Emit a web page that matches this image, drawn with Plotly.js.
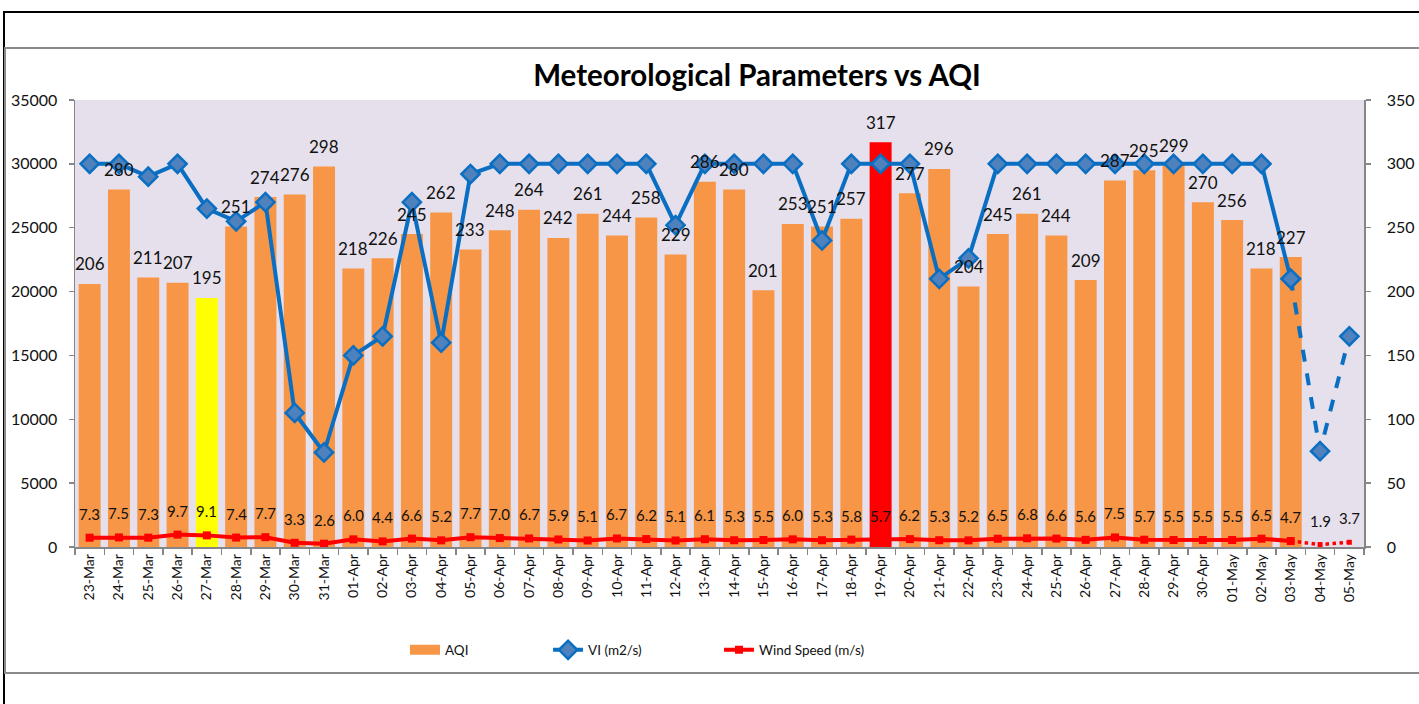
<!DOCTYPE html>
<html><head><meta charset="utf-8">
<script src="https://cdn.plot.ly/plotly-3.0.1.min.js"></script>
<style>
html,body{margin:0;padding:0;background:#fff;}
#wrap{position:relative;width:1419px;height:704px;overflow:hidden;}
#chart{position:absolute;left:0;top:0;width:1419px;height:704px;}
.frame{position:absolute;pointer-events:none;box-sizing:border-box;}
</style></head><body>
<div id="wrap">
<div id="chart"></div>
<div class="frame" style="left:3px;top:11px;width:1416px;height:693px;border-top:2px solid #000;border-left:2px solid #000;"></div>
<div class="frame" style="left:4px;top:47px;width:1415px;height:627px;border-top:2px solid #8a8a8a;border-left:2px solid #8a8a8a;border-bottom:2px solid #8a8a8a;"></div>
</div>
<script>
const dates = ['23-Mar','24-Mar','25-Mar','26-Mar','27-Mar','28-Mar','29-Mar','30-Mar','31-Mar',
  '01-Apr','02-Apr','03-Apr','04-Apr','05-Apr','06-Apr','07-Apr','08-Apr','09-Apr','10-Apr',
  '11-Apr','12-Apr','13-Apr','14-Apr','15-Apr','16-Apr','17-Apr','18-Apr','19-Apr','20-Apr',
  '21-Apr','22-Apr','23-Apr','24-Apr','25-Apr','26-Apr','27-Apr','28-Apr','29-Apr','30-Apr',
  '01-May','02-May','03-May','04-May','05-May'];
const aqi = [206,280,211,207,195,251,274,276,298,
  218,226,245,262,233,248,264,242,261,244,
  258,229,286,280,201,253,251,257,317,277,
  296,204,245,261,244,209,287,295,299,270,
  256,218,227,null,null];
const vi = [30000,30000,29000,30000,26500,25500,27000,10500,7400,
  15000,16500,27000,16000,29200,30000,30000,30000,30000,30000,
  30000,25200,30000,30000,30000,30000,24000,30000,30000,30000,
  21000,22600,30000,30000,30000,30000,30000,30000,30000,30000,
  30000,30000,21000,7500,16500];
const wind = [7.3,7.5,7.3,9.7,9.1,7.4,7.7,3.3,2.6,
  6.0,4.4,6.6,5.2,7.7,7.0,6.7,5.9,5.1,6.7,
  6.2,5.1,6.1,5.3,5.5,6.0,5.3,5.8,5.7,6.2,
  5.3,5.2,6.5,6.8,6.6,5.6,7.5,5.7,5.5,5.5,
  5.5,6.5,4.7,1.9,3.7];
const seriesNames = {aqi:'AQI', vi:'VI (m2/s)', wind:'Wind Speed (m/s)'};
const chartTitle = 'Meteorological Parameters vs AQI';

const highlight = {'27-Mar':'#FFFF00','19-Apr':'#FF0000'};
const ORANGE = '#F79646', BLUE = '#0A6FC2', BLUEFILL = '#4F81BD', RED = '#FF0000';
const FONT = 'Lato, "Open Sans", sans-serif';
const lastObs = aqi.findIndex(v => v === null) - 1;

const barColors = dates.map(d => highlight[d] || ORANGE);

const traces = [
  {type:'bar', x:dates, y:aqi, yaxis:'y', name:seriesNames.aqi, showlegend:false,
   marker:{color:barColors, line:{width:0}}, hoverinfo:'x+y'},
  // legend swatch for AQI (Excel-style wide rectangle)
  {type:'scatter', mode:'lines', x:[null], y:[null], yaxis:'y', name:seriesNames.aqi, legend:'legend',
   line:{color:ORANGE, width:11}},
  {type:'scatter', mode:'lines+markers', x:dates.slice(0,lastObs+1), y:wind.slice(0,lastObs+1), yaxis:'y',
   name:seriesNames.wind, legend:'legend3',
   line:{color:RED, width:4}, marker:{symbol:'square', size:8, color:RED}},
  {type:'scatter', mode:'lines+markers', x:dates.slice(lastObs), y:wind.slice(lastObs), yaxis:'y',
   showlegend:false, line:{color:RED, width:3.5, dash:'dot'}, marker:{symbol:'square', size:5, color:RED}},
  {type:'scatter', mode:'lines+markers', x:dates.slice(0,lastObs+1), y:vi.slice(0,lastObs+1), yaxis:'y2',
   name:seriesNames.vi, legend:'legend2',
   line:{color:BLUE, width:4}, marker:{symbol:'diamond', size:14, color:BLUEFILL, line:{color:BLUE, width:2.5}}},
  {type:'scatter', mode:'lines+markers', x:dates.slice(lastObs), y:vi.slice(lastObs), yaxis:'y2',
   showlegend:false, line:{color:BLUE, width:4, dash:'dash'},
   marker:{symbol:'diamond', size:14, color:BLUEFILL, line:{color:BLUE, width:2.5}}}
];

const annotations = [];
dates.forEach((d,i) => {
  if (aqi[i] !== null) annotations.push({x:d, y:aqi[i], xref:'x', yref:'y', text:String(aqi[i]),
    showarrow:false, yshift:20, font:{family:FONT, size:17, color:'#111'}});
  annotations.push({x:d, y:wind[i], xref:'x', yref:'y', text:wind[i].toFixed(1),
    showarrow:false, yshift:24, font:{family:FONT, size:15, color:'#111'}});
});

const axisCommon = {showline:true, linecolor:'#868686', linewidth:1.5, ticks:'outside', ticklen:5,
  tickcolor:'#868686', tickwidth:1.5, showgrid:false, zeroline:false,
  tickfont:{family:FONT, size:16, color:'#111'}};

const legendCommon = {orientation:'h', yanchor:'middle', y:-0.2304, xanchor:'left',
  bgcolor:'rgba(0,0,0,0)', font:{family:FONT, size:13.5, color:'#111'}};

const layout = {
  width:1419, height:704,
  margin:{l:75, r:55, t:100, b:157, autoexpand:false},
  paper_bgcolor:'#ffffff', plot_bgcolor:'#E6E0EC',
  title:{text:chartTitle, x:0.5335, xanchor:'center', y:0.892, yanchor:'middle',
    font:{family:FONT, size:29.5, weight:700, color:'#000'}},
  bargap:0.25,
  xaxis:Object.assign({}, axisCommon, {type:'category', tickangle:-90, tickson:'boundaries', ticklen:6,
    range:[-0.5, dates.length - 0.5], autorange:false,
    tickfont:{family:FONT, size:14, color:'#111'}}),
  yaxis:Object.assign({}, axisCommon, {side:'right', range:[0,350], dtick:50, tickformat:'d', ticklabelstandoff:13}),
  yaxis2:Object.assign({}, axisCommon, {overlaying:'y', side:'left', range:[0,35000], dtick:5000, tickformat:'d', ticklabelstandoff:8}),
  legend:Object.assign({}, legendCommon, {x:0.256}),
  legend2:Object.assign({}, legendCommon, {x:0.367}),
  legend3:Object.assign({}, legendCommon, {x:0.4996}),
  annotations:annotations,
  showlegend:true
};

Plotly.newPlot('chart', traces, layout, {displayModeBar:false, staticPlot:true});
</script>
</body></html>
